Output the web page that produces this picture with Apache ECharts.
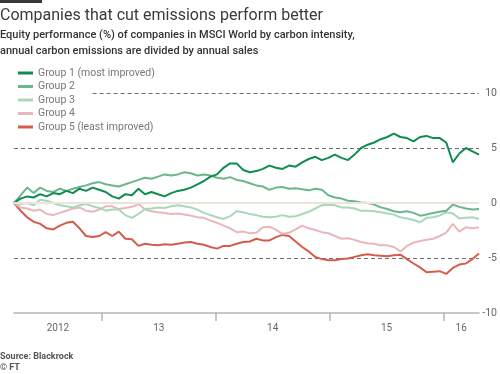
<!DOCTYPE html>
<html><head><meta charset="utf-8">
<script src="https://cdn.jsdelivr.net/npm/echarts@6/dist/echarts.min.js"></script>
<style>html,body{margin:0;padding:0;background:#ffffff;}#c{width:500px;height:374px;}</style>
</head><body><div id="c"></div><script>
const titleText = 'Companies that cut emissions perform better';
const subtitleText = 'Equity performance (%) of companies in MSCI World by carbon intensity,\nannual carbon emissions are divided by annual sales';
const sourceText = 'Source: Blackrock\n© FT';
const seriesNames = ['Group 1 (most improved)', 'Group 2', 'Group 3', 'Group 4', 'Group 5 (least improved)'];
const startDate = '2012-03-25';
const stepDays = 21;
const group1 = [0,0.4,0.6,0.5,0.8,0.6,0.9,0.8,1.1,0.9,1.3,1.1,1.4,1.2,1.0,0.6,0.4,0.8,0.7,1.3,0.8,1.0,0.8,0.6,0.9,1.1,1.2,1.4,1.7,2.0,2.4,2.6,3.2,3.6,3.6,3.0,2.8,2.9,3.1,3.4,3.2,3.1,3.4,3.3,3.7,4.0,4.2,3.9,4.1,4.4,4.1,3.9,4.4,5.0,5.3,5.5,5.8,6.0,6.3,6.0,5.9,5.6,6.0,6.1,5.9,5.9,5.5,3.7,4.5,5.0,4.7,4.4];
const group2 = [0,0.7,1.4,0.9,1.4,1.1,1.0,1.3,1.1,1.3,1.45,1.6,1.8,1.9,1.7,1.6,1.5,1.7,1.9,2.1,2.3,2.2,2.4,2.6,2.5,2.6,2.8,2.7,2.5,2.6,2.5,2.3,2.2,2.35,2.1,2.0,1.8,1.6,1.5,1.2,1.4,1.45,1.3,1.35,1.25,1.15,1.3,1.2,0.7,0.5,0.4,0.2,0.15,0.05,0.0,-0.15,-0.4,-0.55,-0.75,-0.85,-0.75,-0.9,-1.15,-1.05,-0.9,-0.8,-0.7,-0.15,-0.35,-0.5,-0.6,-0.55];
const group3 = [0,-0.1,0.0,-0.2,0.3,0.2,0.0,-0.2,-0.3,-0.4,-0.2,-0.1,-0.3,-0.45,-0.7,-0.6,-0.6,-1.1,-1.35,-1.0,-0.55,-0.5,-0.4,-0.45,-0.3,-0.2,-0.3,-0.4,-0.6,-0.9,-1.1,-1.3,-1.45,-1.2,-0.75,-0.85,-1.0,-1.1,-1.25,-1.3,-1.25,-1.1,-1.25,-1.2,-1.0,-0.8,-0.5,-0.2,-0.15,-0.2,-0.4,-0.4,-0.5,-0.7,-0.7,-0.75,-0.85,-0.95,-1.05,-1.3,-1.4,-1.55,-1.75,-1.35,-1.3,-1.15,-0.85,-0.95,-1.4,-1.35,-1.3,-1.45];
const group4 = [0,-0.4,-0.5,-0.7,-0.6,-1.0,-1.1,-0.9,-0.7,-0.5,-0.4,-0.7,-0.8,-0.6,-0.3,-0.3,-0.55,-0.45,-0.35,-0.1,-0.6,-0.75,-0.85,-0.9,-1.0,-0.95,-1.05,-1.15,-1.3,-1.35,-1.6,-1.8,-2.05,-2.3,-2.65,-2.6,-2.75,-2.7,-2.2,-2.15,-2.45,-2.8,-2.7,-2.4,-2.05,-2.3,-2.45,-2.65,-2.75,-3.0,-3.25,-3.2,-3.35,-3.55,-3.65,-3.7,-3.85,-3.85,-4.0,-4.4,-3.9,-3.6,-3.45,-3.35,-3.25,-3.0,-2.7,-1.9,-2.6,-2.2,-2.3,-2.2];
const group5 = [0,-0.7,-1.3,-1.7,-1.9,-2.3,-2.4,-2.05,-1.8,-1.7,-2.3,-3.0,-3.1,-3.0,-2.65,-3.0,-2.6,-3.25,-3.3,-3.9,-3.7,-3.8,-3.85,-3.75,-3.8,-3.7,-3.6,-3.55,-3.7,-3.8,-4.0,-4.15,-3.9,-3.9,-3.7,-3.55,-3.5,-3.25,-3.4,-3.4,-3.1,-2.9,-3.0,-3.5,-4.0,-4.4,-4.9,-5.1,-5.2,-5.2,-5.1,-5.05,-4.9,-4.75,-4.65,-4.75,-4.8,-4.85,-4.75,-4.7,-5.1,-5.5,-5.85,-6.3,-6.25,-6.2,-6.45,-5.9,-5.6,-5.5,-5.1,-4.6];
const groupValues = [group1, group2, group3, group4, group5];
const yearStarts = ['2013-01-01', '2014-01-01', '2015-01-01', '2016-01-01'];
const xTickLabels = ['2012', '13', '14', '15', '16'];
const yMin = -10, yMax = 10, yStep = 5;
const partialGridValue = 10;

const colors = ['#108c50', '#6cb68d', '#a9d7ba', '#e8b6bd', '#d55c4c'];
const gridDash = '#6e6e6e';

function parseLocal(s) { const p = s.split('-').map(Number); return new Date(p[0], p[1] - 1, p[2]).getTime(); }
const t0 = parseLocal(startDate);
const dates = group1.map((_, i) => { const d = new Date(t0); d.setDate(d.getDate() + i * stepDays); return d.getTime(); });
const xMin = dates[0], xMax = dates[dates.length - 1];
const tickVals = yearStarts.map(parseLocal);
const bounds = [xMin].concat(tickVals, [xMax]);
const labelVals = xTickLabels.map((_, i) => (bounds[i] + bounds[i + 1]) / 2);

const chart = echarts.init(document.getElementById('c'), null, {renderer: 'canvas'});
const series = seriesNames.map((name, k) => ({
  name, type: 'line', showSymbol: false, symbol: 'none',
  data: dates.map((d, i) => [d, groupValues[k][i]]),
  lineStyle: {width: 2, color: colors[k]}, itemStyle: {color: colors[k]},
  z: 2 + (4 - k), silent: true
}));
series[0].markLine = {
  silent: true, symbol: 'none', label: {show: false}, z: 10,
  data: [
    {yAxis: 0, lineStyle: {type: 'solid', color: '#ece3d9', width: 2}},
    [{coord: [dates[12], partialGridValue]}, {coord: [xMax, partialGridValue], lineStyle: {type: [4, 3], color: gridDash, width: 1}}]
  ]
};

chart.setOption({
  animation: false,
  backgroundColor: '#ffffff',
  title: [
    {text: titleText, left: 0, top: 8, padding: 0, textStyle: {fontFamily: 'Roboto', fontSize: 16, fontWeight: 'normal', color: '#3a3a3a'},
     subtext: subtitleText, itemGap: 3, subtextStyle: {fontFamily: 'Roboto', fontSize: 11, fontWeight: 500, color: '#333333', lineHeight: 16}},
    {text: sourceText, left: 0, top: 351, padding: 0, textStyle: {fontFamily: 'Roboto', fontSize: 9, fontWeight: 'bold', color: '#555555', lineHeight: 11}}
  ],
  graphic: [{type: 'rect', left: 0, top: 0, shape: {width: 42, height: 3}, style: {fill: '#383838'}}],
  legend: {
    orient: 'vertical', left: 18, top: 67, padding: 0, itemWidth: 15, itemHeight: 3, itemGap: 1.5, icon: 'rect',
    textStyle: {fontFamily: 'Roboto', fontSize: 10.5, color: '#777777', lineHeight: 12},
    data: seriesNames
  },
  grid: {left: 14, right: 18, top: 93, bottom: 61, containLabel: false},
  xAxis: {
    type: 'value', min: xMin, max: xMax,
    axisLine: {show: true, onZero: false, lineStyle: {color: '#b4b4b4', width: 1.5}},
    axisTick: {show: true, customValues: tickVals, length: 8, lineStyle: {color: '#b4b4b4', width: 1.5}},
    axisLabel: {customValues: labelVals, margin: 10, fontFamily: 'Roboto', fontSize: 10, color: '#666666',
      formatter: v => { let b = 0; labelVals.forEach((lv, i) => { if (Math.abs(lv - v) < Math.abs(labelVals[b] - v)) b = i; }); return xTickLabels[b]; }},
    splitLine: {show: false}
  },
  yAxis: {
    type: 'value', position: 'right', min: yMin, max: yMax, interval: yStep,
    axisLine: {show: false}, axisTick: {show: false},
    axisLabel: {align: 'right', margin: 18, fontFamily: 'Roboto', fontSize: 10.5, color: '#666666'},
    splitLine: {show: true, lineStyle: {type: [4, 3], width: 1, color: ['transparent', gridDash, 'transparent', gridDash, 'transparent']}}
  },
  series
});
</script></body></html>
